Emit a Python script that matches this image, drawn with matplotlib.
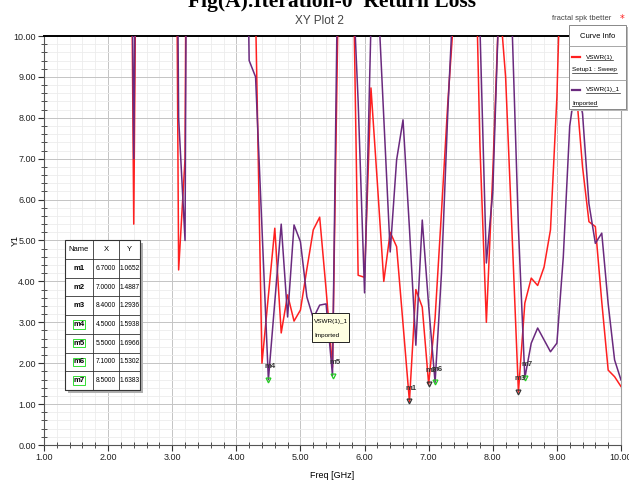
import matplotlib.pyplot as plt
import numpy as np
from matplotlib.patches import Rectangle
from matplotlib.ticker import MultipleLocator, FormatStrFormatter

# ---------------------------------------------------------------------------
# Data (0.1 GHz sweep, values > 10 are off-scale)
# ---------------------------------------------------------------------------
freq = np.round(np.arange(1.0, 10.05, 0.1), 1)

vswr_sweep = [
    30, 32, 35, 33, 30, 28, 26, 25, 24, 22,            # 1.0 - 1.9
    21, 20, 22, 25, 5.4, 25, 30, 32, 30, 28,           # 2.0 - 2.9
    30, 4.28, 7.0, 40, 45, 40, 35, 33, 30, 28,         # 3.0 - 3.9
    25, 22, 20, 10.6, 2.0, 3.65, 5.3, 2.74, 3.67, 3.03,  # 4.0 - 4.9
    3.3, 4.3, 5.26, 5.57, 3.8, 1.9, 12, 30, 14, 4.15,  # 5.0 - 5.9
    4.1, 8.73, 6.4, 4.0, 5.2, 4.85, 2.96, 1.0652, 3.8, 3.37,  # 6.0 - 6.9
    1.4887, 3.1, 5.7, 8.4, 10.7, 25, 30, 14.3, 7.3, 3.0,     # 7.0 - 7.9
    6.65, 11.0, 9.0, 5.2, 1.2936, 3.47, 4.08, 3.9, 4.35, 5.26,  # 8.0 - 8.9
    8.5, 14, 13, 8.7, 6.8, 5.46, 5.34, 3.5, 1.83, 1.67,  # 9.0 - 9.9
    1.43,                                               # 10.0
]

vswr_imported = [
    25, 27, 30, 28, 26, 24, 23, 22, 21, 20,
    20, 21, 23, 25, 7.0, 25, 28, 30, 28, 27,
    30, 8.0, 5.0, 40, 42, 38, 34, 30, 27, 24,
    22, 20, 9.4, 9.0, 5.3, 1.5938, 3.5, 5.4, 3.13, 5.38,
    4.97, 3.62, 3.1, 3.42, 3.45, 1.6966, 14, 30, 12, 8.4,
    3.72, 10.3, 11.3, 8.0, 4.72, 6.97, 7.95, 5.3, 2.44, 5.5,
    3.4, 1.5302, 4.2, 8.2, 11.5, 25, 30, 20, 10.2, 4.45,
    6.2, 11, 20, 10.3, 5.3, 1.6383, 2.49, 2.86, 2.57, 2.28,
    2.49, 4.6, 7.8, 8.9, 8.1, 5.9, 4.93, 5.18, 3.45, 2.08,
    1.59,
]

marker_names = ["m1", "m2", "m3", "m4", "m5", "m6", "m7"]
marker_x = [6.7, 7.0, 8.4, 4.5, 5.5, 7.1, 8.5]
marker_y = [1.0652, 1.4887, 1.2936, 1.5938, 1.6966, 1.5302, 1.6383]
marker_on_imported = [False, False, False, True, True, True, True]

RED = "#ff2020"
PURPLE = "#6a2a7e"
SANS = "Liberation Sans"

W, H = 629, 486
fig = plt.figure(figsize=(W / 100, H / 100), dpi=100)
fig.patch.set_facecolor("white")

# plot area in pixels: x 44..621, y 36..445
ax = fig.add_axes([44 / W, 41 / H, 577 / W, 409 / H])
ax.set_xlim(1, 10)
ax.set_ylim(0, 10)

ax.xaxis.set_major_locator(MultipleLocator(1))
ax.xaxis.set_minor_locator(MultipleLocator(0.2))
ax.yaxis.set_major_locator(MultipleLocator(1))
ax.yaxis.set_minor_locator(MultipleLocator(0.2))
ax.xaxis.set_major_formatter(FormatStrFormatter("%.2f"))
ax.yaxis.set_major_formatter(FormatStrFormatter("%.2f"))

ax.grid(which="minor", color="#ececec", linewidth=0.6)
ax.grid(which="major", color="#c4c4c4", linewidth=0.7)
ax.set_axisbelow(True)

ax.tick_params(which="major", direction="out", length=4, width=0.8,
               color="#333333", labelsize=6.5, pad=2)
ax.tick_params(which="minor", direction="inout", length=4, width=0.6,
               color="#333333")
for lab in ax.get_xticklabels() + ax.get_yticklabels():
    lab.set_family(SANS)
    lab.set_color("#222222")

ax.spines["top"].set_color("black")
ax.spines["top"].set_linewidth(1.4)
ax.spines["left"].set_color("#555555")
ax.spines["bottom"].set_color("#555555")
ax.spines["right"].set_color("#a0a0a0")

ax.plot(freq, vswr_sweep, color=RED, linewidth=1.1, zorder=3)
ax.plot(freq, vswr_imported, color=PURPLE, linewidth=1.1, zorder=3)

# ---- markers ----
for name, mx, my, imp in zip(marker_names, marker_x, marker_y, marker_on_imported):
    ax.plot(mx, my, marker="v", markersize=3.5, zorder=5,
            markerfacecolor="none",
            markeredgecolor="#22cc22" if imp else "#333333",
            markeredgewidth=0.9)
    ax.annotate(name, xy=(mx, my), xytext=(1.5, 7), textcoords="offset points",
                fontsize=5.5, fontweight="bold", color="#333333",
                family=SANS, ha="center", va="bottom", zorder=6)

ax.set_xlabel("Freq [GHz]", fontsize=6.5, family=SANS, labelpad=6)

# ---------------------------------------------------------------------------
# Overlay in pixel coordinates: titles, marker table, legend, tooltip
# ---------------------------------------------------------------------------
ov = fig.add_axes([0, 0, 1, 1], zorder=10)
ov.set_xlim(0, W)
ov.set_ylim(H, 0)
ov.axis("off")

ov.text(15, 240, "Y1", family=SANS, fontsize=6.5, rotation=90,
        ha="center", va="center")
ov.text(332, 7, "Fig(A).Iteration-0  Return Loss", family="Liberation Serif",
        fontweight="bold", fontsize=15.5, ha="center", va="baseline")
ov.text(319, 24, "XY Plot 2", family=SANS, fontsize=8.5, color="#444444",
        ha="center", va="baseline")
ov.text(582, 20, "fractal spk tbetter", family=SANS, fontsize=5.5,
        color="#444444", ha="center", va="baseline")
ov.text(622, 22, "*", fontsize=7, color=RED, ha="center", va="baseline")

# marker table
cols = [65, 92.7, 119.3, 140]
top, hdr, rowh = 240, 259, 18.7
bottom = hdr + rowh * len(marker_names)
ov.add_patch(Rectangle((cols[0] + 3, top + 3), cols[-1] - cols[0], bottom - top,
                       facecolor="#b0b0b0", edgecolor="none"))
ov.add_patch(Rectangle((cols[0], top), cols[-1] - cols[0], bottom - top,
                       facecolor="white", edgecolor="#333333", linewidth=0.8))
for cx in cols[1:-1]:
    ov.plot([cx, cx], [top, bottom], color="#333333", linewidth=0.6)
ov.plot([cols[0], cols[-1]], [hdr, hdr], color="#333333", linewidth=0.6)
for header, c0, c1 in zip(["Name", "X", "Y"], cols[:-1], cols[1:]):
    ov.text((c0 + c1) / 2, (top + hdr) / 2, header, family=SANS, fontsize=5.5,
            ha="center", va="center")
for i, (name, mx, my, imp) in enumerate(zip(marker_names, marker_x, marker_y,
                                            marker_on_imported)):
    y0 = hdr + i * rowh
    ov.plot([cols[0], cols[-1]], [y0 + rowh, y0 + rowh], color="#333333",
            linewidth=0.6)
    yc = y0 + rowh / 2
    ov.text((cols[0] + cols[1]) / 2, yc, name, family=SANS, fontsize=5.5,
            fontweight="bold", ha="center", va="center",
            bbox=dict(boxstyle="square,pad=0.1", facecolor="none",
                      edgecolor="#33dd33", linewidth=0.7) if imp else None)
    ov.text((cols[1] + cols[2]) / 2, yc, f"{mx:.4f}", family=SANS,
            fontsize=4.8, ha="center", va="center")
    ov.text((cols[2] + cols[3]) / 2, yc, f"{my:.4f}", family=SANS,
            fontsize=4.8, ha="center", va="center")

# legend ("Curve Info")
lx0, lx1, ly0, ly1 = 569, 626, 25, 109
ov.add_patch(Rectangle((lx0 + 2, ly0 + 2), lx1 - lx0, ly1 - ly0,
                       facecolor="#b8b8b8", edgecolor="none"))
ov.add_patch(Rectangle((lx0, ly0), lx1 - lx0, ly1 - ly0, facecolor="white",
                       edgecolor="#888888", linewidth=0.7))
ov.text((lx0 + lx1) / 2, 36, "Curve Info", family=SANS, fontsize=5.5,
        ha="center", va="center")
ov.plot([lx0, lx1], [46, 46], color="#999999", linewidth=0.6)
ov.plot([lx0, lx1], [80, 80], color="#999999", linewidth=0.6)
legend_rows = [
    (RED, "VSWR(1)", "Setup1 : Sweep", 57),
    (PURPLE, "VSWR(1)_1", "Imported", 90),
]
for color, name, sub, yy in legend_rows:
    ov.plot([572, 580], [yy, yy], color=color, linewidth=1.6)
    t = ov.text(586, yy, name, family=SANS, fontsize=4.6, ha="left",
                va="center")
    s = ov.text(572, yy + 13, sub, family=SANS, fontsize=4.6, ha="left",
                va="center")
    for txt in (t, s):
        fig.canvas.draw()
        bb = txt.get_window_extent().transformed(ov.transData.inverted())
        ov.plot([bb.x0, bb.x1], [bb.y0 + 0.5, bb.y0 + 0.5], color="#222222",
                linewidth=0.5)

# tooltip
ov.add_patch(Rectangle((312, 313), 37, 29, facecolor="#ffffe1",
                       edgecolor="#222222", linewidth=0.7))
ov.text(314, 321, "VSWR(1)_1", family=SANS, fontsize=4.6, ha="left",
        va="center")
ov.text(314, 335, "Imported", family=SANS, fontsize=4.6, ha="left",
        va="center")

fig.savefig("out.png", dpi=100, facecolor="white")
